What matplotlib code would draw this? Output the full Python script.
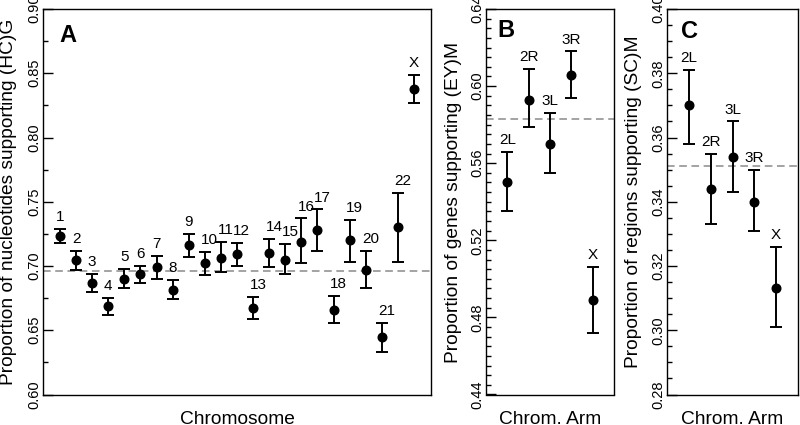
import matplotlib
matplotlib.use("Agg")
import matplotlib.pyplot as plt
from matplotlib.ticker import MultipleLocator, FormatStrFormatter

plt.rcParams['font.family'] = ['Liberation Sans', 'DejaVu Sans']

# Panel A: per chromosome
chrom_labels = ['1', '2', '3', '4', '5', '6', '7', '8', '9', '10', '11', '12',
                '13', '14', '15', '16', '17', '18', '19', '20', '21', '22', 'X']
a_mean = [0.723, 0.705, 0.687, 0.669, 0.690, 0.694, 0.699, 0.681, 0.716, 0.702, 0.706, 0.709,
          0.667, 0.710, 0.705, 0.719, 0.728, 0.666, 0.720, 0.697, 0.645, 0.730, 0.838]
a_upper = [0.729, 0.712, 0.694, 0.675, 0.698, 0.700, 0.708, 0.689, 0.725, 0.711, 0.719, 0.718,
           0.676, 0.721, 0.717, 0.737, 0.744, 0.677, 0.736, 0.712, 0.656, 0.757, 0.849]
a_lower = [0.718, 0.697, 0.680, 0.662, 0.683, 0.687, 0.690, 0.674, 0.707, 0.693, 0.695, 0.700,
           0.659, 0.699, 0.694, 0.702, 0.712, 0.656, 0.703, 0.683, 0.633, 0.703, 0.827]
a_ref = 0.696

# Panels B and C: per chromosome arm
arm_labels = ['2L', '2R', '3L', '3R', 'X']
b_mean = [0.550, 0.593, 0.570, 0.606, 0.489]
b_upper = [0.566, 0.609, 0.586, 0.618, 0.506]
b_lower = [0.535, 0.579, 0.555, 0.594, 0.472]
b_ref = 0.583

c_mean = [0.370, 0.344, 0.354, 0.340, 0.313]
c_upper = [0.381, 0.355, 0.365, 0.350, 0.326]
c_lower = [0.358, 0.333, 0.343, 0.331, 0.301]
c_ref = 0.351

fig = plt.figure(figsize=(8, 4.25), dpi=100)
bot = (425 - 394.5) / 425
hgt = (394.5 - 9) / 425
axA = fig.add_axes([43 / 800, bot, 388 / 800, hgt])
axB = fig.add_axes([486 / 800, bot, 128 / 800, hgt])
axC = fig.add_axes([667 / 800, bot, 131 / 800, hgt])


def draw_panel(ax, labels, mean, upper, lower, ref, shift_two_digit=False):
    x = list(range(1, len(labels) + 1))
    yerr = [[m - l for m, l in zip(mean, lower)], [u - m for m, u in zip(mean, upper)]]
    ax.axhline(ref, color='#8a8a8a', lw=1.1, ls=(0, (5, 3)), zorder=1)
    ax.errorbar(x, mean, yerr=yerr, fmt='o', color='black', ms=6.2,
                elinewidth=1.4, capsize=4.2, capthick=1.4, zorder=3)
    for xi, lab, top in zip(x, labels, upper):
        dx = 3.5 if (shift_two_digit and len(lab) == 2) else 0
        ax.annotate(lab, (xi, top), xytext=(dx, 3.5), textcoords='offset points',
                    ha='center', va='bottom', fontsize=11)
    ax.set_xticks([])
    for s in ax.spines.values():
        s.set_linewidth(1.0)


draw_panel(axA, chrom_labels, a_mean, a_upper, a_lower, a_ref, shift_two_digit=True)
draw_panel(axB, arm_labels, b_mean, b_upper, b_lower, b_ref)
draw_panel(axC, arm_labels, c_mean, c_upper, c_lower, c_ref)

axA.set_xlim(-0.05, 24.05)
axA.set_ylim(0.60, 0.90)
axA.yaxis.set_major_locator(MultipleLocator(0.05))
axA.yaxis.set_minor_locator(MultipleLocator(0.025))

axB.set_xlim(0, 6)
axB.set_ylim(0.44, 0.64)
axB.yaxis.set_major_locator(MultipleLocator(0.04))
axB.yaxis.set_minor_locator(MultipleLocator(0.005))

axC.set_xlim(0, 6)
axC.set_ylim(0.28, 0.40)
axC.yaxis.set_major_locator(MultipleLocator(0.02))
axC.yaxis.set_minor_locator(MultipleLocator(0.005))

for ax in [axA, axB, axC]:
    ax.yaxis.set_major_formatter(FormatStrFormatter('%.2f'))
    ax.tick_params(axis='y', which='major', direction='in', length=7, width=1.0,
                   labelsize=10.5, pad=1.5)
    ax.tick_params(axis='y', which='minor', direction='in', length=3.5, width=1.0)
    for t in ax.get_yticklabels():
        t.set_rotation(90)
        t.set_va('center')

# panel letters
axA.text(0.041, 0.915, 'A', transform=axA.transAxes, fontsize=17, fontweight='bold', va='baseline')
axB.text(0.09, 0.927, 'B', transform=axB.transAxes, fontsize=17, fontweight='bold', va='baseline')
axC.text(0.105, 0.925, 'C', transform=axC.transAxes, fontsize=17, fontweight='bold', va='baseline')

# axis titles
ymid = (425 - 202) / 425
fig.text(9 / 800, ymid, 'Proportion of nucleotides supporting (HC)G', rotation=90,
         ha='center', va='center', fontsize=13.8)
fig.text(453 / 800, ymid, 'Proportion of genes supporting (EY)M', rotation=90,
         ha='center', va='center', fontsize=13.8)
fig.text(633 / 800, ymid, 'Proportion of regions supporting (SC)M', rotation=90,
         ha='center', va='center', fontsize=13.8)
fig.text(237 / 800, 0.002, 'Chromosome', ha='center', va='baseline', fontsize=13.8)
fig.text(550 / 800, 0.002, 'Chrom. Arm', ha='center', va='baseline', fontsize=13.8)
fig.text(732.5 / 800, 0.002, 'Chrom. Arm', ha='center', va='baseline', fontsize=13.8)

fig.savefig("out.png", dpi=100)
